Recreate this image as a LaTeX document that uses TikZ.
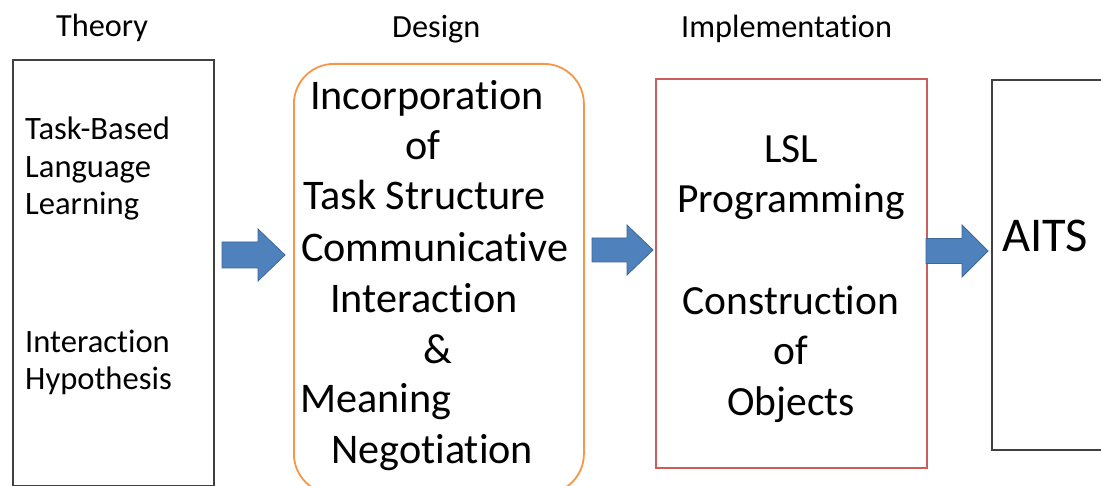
\documentclass[tikz,border=0pt]{standalone}
\usepackage{fontspec}
\setmainfont{Carlito}[Ligatures={NoCommon,NoContextual}]
\definecolor{arrfill}{HTML}{4F81BD}
\definecolor{arrline}{HTML}{3C6896}
\definecolor{boxgray}{HTML}{404040}
\definecolor{boxorange}{HTML}{F79646}
\definecolor{boxred}{HTML}{CD5C5C}
\tikzset{
  box/.style={draw, line width=1.8pt, inner sep=0pt, anchor=north west},
  hdr/.style={anchor=base west, inner sep=0pt, font=\fontsize{32.3}{38}\selectfont},
  small/.style={anchor=base west, inner sep=0pt, font=\fontsize{32.6}{38}\selectfont},
  big/.style={anchor=base west, inner sep=0pt, font=\fontsize{42.2}{50}\selectfont},
  bigc/.style={anchor=base, inner sep=0pt, font=\fontsize{41.5}{50}\selectfont},
  blockarrow/.style={fill=arrfill, draw=arrline, line width=0.8pt, line join=miter}
}
\newcommand{\blockarr}[6]{%
  \filldraw[blockarrow] (#1,#4-#5) -- (#2,#4-#5) -- (#2,#4-#6) -- (#3,#4)
    -- (#2,#4+#6) -- (#2,#4+#5) -- (#1,#4+#5) -- cycle;}
\begin{document}
\begin{tikzpicture}[x=1pt,y=-1pt]
\useasboundingbox (0,0) rectangle (1101,486);
\clip (0,0) rectangle (1101,486);
\fill[white] (0,0) rectangle (1101,486);
% boxes
\node[box, draw=boxgray, minimum width=201pt, minimum height=426pt] (theory) at (12,59) {};
\node[box, draw=boxorange, rounded corners=40pt, minimum width=290pt, minimum height=430pt] (design) at (293,63) {};
\node[box, draw=boxred, minimum width=271pt, minimum height=389pt] (impl) at (655,78) {};
\node[box, draw=boxgray, minimum width=160pt, minimum height=370pt] (aits) at (991,79) {};
% arrows
\blockarr{222}{258}{285}{255}{13}{26}
\blockarr{592}{627}{653}{250}{12}{25}
\blockarr{926}{962}{988}{251}{12.5}{26}
% headers
\node[hdr] (hT) at (56,37) {Theory};
\node[hdr] (hD) at (392,38) {Design};
\node[hdr] (hI) at (681,38) {Implementation};
% theory text
\node[small] (t1) at (25,140) {Task-Based};
\node[small] (t2) at (25,178) {Language};
\node[small] (t3) at (25,215) {Learning};
\node[small] (t4) at (25,353) {Interaction};
\node[small] (t5) at (25,390) {Hypothesis};
% design text
\node[big] (d1) at (310,110) {Incorporation};
\node[big] (d2) at (405,160) {of};
\node[big] (d3) at (303,210) {Task Structure};
\node[big] (d4) at (301,262) {Communicative};
\node[big] (d5) at (330,313) {Interaction};
\node[big] (d6) at (423,363) {\&};
\node[big] (d7) at (300,413) {Meaning};
\node[big] (d8) at (331,463) {Negotiation};
% implementation text
\node[bigc] (i1) at (791,163) {LSL};
\node[bigc] (i2) at (791,213) {Programming};
\node[bigc] (i3) at (791,315) {Construction};
\node[bigc] (i4) at (791,365) {of};
\node[bigc] (i5) at (791,415) {Objects};
% AITS
\node[anchor=base west, inner sep=0pt, font=\fontsize{48.5}{58}\selectfont] (a1) at (1002,252) {AITS};
\end{tikzpicture}
\end{document}
